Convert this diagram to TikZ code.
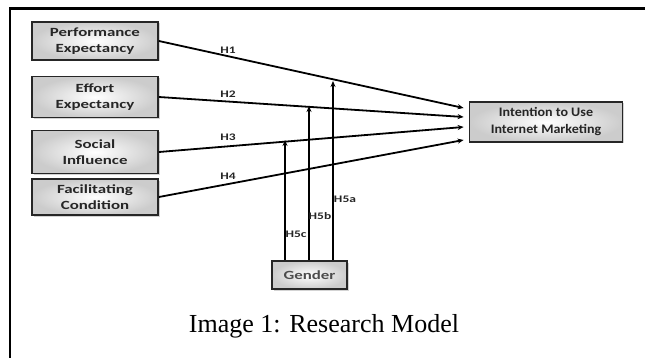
\documentclass[tikz,border=0pt]{standalone}
\usepackage{fontspec}
\setmainfont{Liberation Serif}
\newfontfamily\boxfont[FakeStretch=1.35]{Carlito}
\newfontfamily\wbfont[FakeStretch=1.08]{Carlito}
\usetikzlibrary{arrows.meta,shadows}

\begin{document}
\begin{tikzpicture}[x=1pt,y=-1pt]
\tikzstyle{every node}+=[inner sep=0pt]
\tikzstyle{cons}=[draw=black!85,line width=1.8pt,inner color=white,outer color=black!20,
  drop shadow={shadow xshift=1.5pt,shadow yshift=-1.5pt,opacity=.35},
  align=center,text=black!85,font=\boxfont\bfseries\fontsize{12.5}{16}\selectfont]
\tikzstyle{hyp}=[font=\boxfont\bfseries\fontsize{10}{12}\selectfont,text=black!85]
\tikzstyle{path}=[line width=1.8pt,-{Stealth[length=6pt,width=5pt]}]
\useasboundingbox (0,0) rectangle (647,358);
% frame
\draw [line width=2.2pt] (10,358) -- (10,8.5) -- (645,8.5);
% constructs
\node [cons,minimum width=126,minimum height=38] (pe) at (95,41) {Performance\\Expectancy};
\node [cons,minimum width=126,minimum height=41] (ee) at (95,97) {Effort\\Expectancy};
\node [cons,minimum width=126,minimum height=43] (si) at (95,152) {Social\\Influence};
\node [cons,minimum width=126,minimum height=36] (fc) at (95,197) {Facilitating\\Condition};
\node [cons,minimum width=153,minimum height=40,font=\wbfont\bfseries\fontsize{13}{17}\selectfont] (iu) at (546,122) {Intention to Use\\Internet Marketing};
\node [cons,minimum width=75,minimum height=28,text=black!70] (gen) at (309.5,275) {Gender};
% arrow ends
\coordinate (t1) at ([shift={(-5pt,14pt)}]iu.west);
\coordinate (t2) at ([shift={(-5pt,5pt)}]iu.west);
\coordinate (t3) at ([shift={(-5pt,-5pt)}]iu.west);
\coordinate (t4) at ([shift={(-5pt,-18pt)}]iu.west);
\coordinate (m1) at (333,81);
\coordinate (m2) at (309,106);
\coordinate (m3) at (285,140);
% paths
\draw [path] (pe.east) -- (t1);
\draw [path] (ee.east) -- (t2);
\draw [path] (si.east) -- (t3);
\draw [path] (fc.east) -- (t4);
\draw [path] (m1 |- gen.north) -- (m1);
\draw [path] (m2 |- gen.north) -- (m2);
\draw [path] (m3 |- gen.north) -- (m3);
% labels
\node [hyp] (h1) at (228,50) {H1};
\node [hyp] (h2) at (228,94) {H2};
\node [hyp] (h3) at (228,137) {H3};
\node [hyp] (h4) at (228,176) {H4};
\node [hyp] (h5a) at (345,199) {H5a};
\node [hyp] (h5b) at (320,216) {H5b};
\node [hyp] (h5c) at (296,234) {H5c};
\node [anchor=base,font=\fontsize{26}{30}\selectfont] (cap) at (324,332) {Image 1: Research Model};
\end{tikzpicture}
\end{document}
